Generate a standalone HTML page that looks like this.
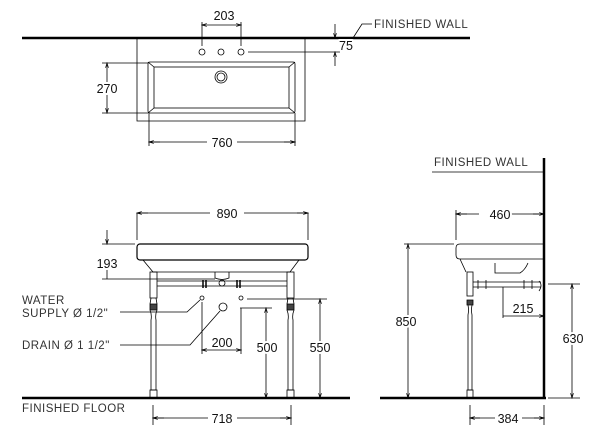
<!DOCTYPE html>
<html><head><style>body{margin:0;background:#fff}svg{display:block}text{font-family:"Liberation Sans",sans-serif;font-size:12.5px;fill:#111;paint-order:stroke;stroke:#fff;stroke-width:4px;stroke-linejoin:round}.l{font-size:11.5px;fill:#333;letter-spacing:0.5px}</style></head><body>
<svg width="600" height="443" viewBox="0 0 600 443" xmlns="http://www.w3.org/2000/svg">
<defs><marker id="a" viewBox="0 0 10 10" refX="10" refY="5" markerWidth="8" markerHeight="6" orient="auto-start-reverse"><path d="M0,2 L10,5 L0,8" fill="none" stroke="#000" stroke-width="1.5"/></marker></defs>
<g stroke="#000" fill="none" stroke-width="0.8">
<line x1="22" y1="38" x2="470" y2="38" stroke-width="2.5"/>
<path d="M137,38 V121 H305 V38"/>
<rect x="148" y="62" width="147" height="51" rx="2"/>
<rect x="154" y="67" width="135" height="41"/>
<path d="M148,62 L154,67 M295,62 L289,67 M148,113 L154,108 M295,113 L289,108"/>
<circle cx="202" cy="52" r="3"/><circle cx="221" cy="52" r="3"/><circle cx="241" cy="52" r="3"/>
<circle cx="221" cy="77" r="6"/><circle cx="221" cy="77" r="4"/>
<path d="M202,22 V46 M241,22 V46"/>
<line x1="202" y1="25" x2="241" y2="25" marker-start="url(#a)" marker-end="url(#a)"/>
<line x1="248" y1="52" x2="340" y2="52"/>
<line x1="335" y1="24" x2="335" y2="38" marker-end="url(#a)"/>
<line x1="335" y1="66" x2="335" y2="52" marker-end="url(#a)"/>
<path d="M353,38 L362,24 H372"/>
<path d="M102,63 H148 M102,113 H148"/>
<line x1="107" y1="63" x2="107" y2="113" marker-start="url(#a)" marker-end="url(#a)"/>
<path d="M149,113 V146 M295,113 V146"/>
<path d="M149,142 H207 M237,142 H295" />
<line x1="149" y1="142" x2="160" y2="142" marker-start="url(#a)"/>
<line x1="284" y1="142" x2="295" y2="142" marker-end="url(#a)"/>
<line x1="22" y1="398" x2="350" y2="398" stroke-width="2.5"/>
<path d="M137,213 V240 M308,213 V240"/>
<path d="M137,213 H210 M244,213 H308"/>
<line x1="137" y1="213" x2="148" y2="213" marker-start="url(#a)"/>
<line x1="297" y1="213" x2="308" y2="213" marker-end="url(#a)"/>
<rect x="137" y="244" width="171" height="16" rx="3" stroke-width="1.2"/>
<path d="M143,260 L153,272 H290 L299,260" />
<path d="M215,272 V278 Q222,281 229,278 V272"/>
<rect x="150" y="272" width="7" height="26"/><rect x="287" y="272" width="7" height="26"/>
<path d="M150,304 h7 v6 h-7z M287,304 h7 v6 h-7z" fill="#444"/>
<path d="M151,298 l-1,6 M156,298 l1,6 M288,298 l-1,6 M293,298 l1,6"/>
<path d="M150,310 q2,5 1,10 V390 h5 V320 q-1,-5 1,-10 M287,310 q2,5 1,10 V390 h5 V320 q-1,-5 1,-10"/>
<rect x="150" y="390" width="7" height="8"/><rect x="287" y="390" width="7" height="8"/>
<path d="M157,281 H287 M157,286 H287"/>
<path d="M203,280 v8 M206,280 v8 M237,280 v8 M240,280 v8" stroke-width="1.5"/>
<circle cx="222" cy="283" r="3"/>
<path d="M102,244 H135 M102,279 H215"/>
<line x1="107" y1="230" x2="107" y2="244" marker-end="url(#a)"/>
<line x1="107" y1="262" x2="107" y2="279"/>
<circle cx="202" cy="298" r="2"/><circle cx="241" cy="298" r="2"/><circle cx="223" cy="307" r="4"/>
<path d="M120,312 H187 L200,300"/>
<path d="M120,345 H190 L220,311"/>
<path d="M202,302 V354 M241,308 V354"/>
<line x1="202" y1="350" x2="241" y2="350" marker-start="url(#a)" marker-end="url(#a)"/>
<path d="M240,308 H272 M247,299 H327"/>
<line x1="266" y1="308" x2="266" y2="398" marker-start="url(#a)" marker-end="url(#a)"/>
<line x1="320" y1="299" x2="320" y2="398" marker-start="url(#a)" marker-end="url(#a)"/>
<path d="M153,405 V425 M291,405 V425 M153,418 H208 M237,418 H291"/>
<line x1="153" y1="418" x2="164" y2="418" marker-start="url(#a)"/>
<line x1="280" y1="418" x2="291" y2="418" marker-end="url(#a)"/>
<line x1="544" y1="158" x2="544" y2="399" stroke-width="2.5"/>
<line x1="380" y1="398" x2="546" y2="398" stroke-width="2.5"/>
<line x1="432" y1="172" x2="543" y2="172"/>
<path d="M456,210 V240 M456,214 H479 M508,214 H544"/>
<line x1="456" y1="214" x2="467" y2="214" marker-start="url(#a)"/>
<line x1="533" y1="214" x2="544" y2="214" marker-end="url(#a)"/>
<path d="M544,244 H460 q-4,0 -4,4 v7 q0,4 4,4 H544"/>
<path d="M460,259 L466,272 M495,263 v10 H520 q5,-3 8,-10"/>
<rect x="467" y="272" width="6" height="24"/>
<path d="M467,300 h6 v5 h-6z" fill="#444"/>
<path d="M468,305 q1,5 0,10 V390 h4 V315 q-1,-5 0,-10"/>
<rect x="467" y="390" width="6" height="8"/>
<path d="M473,282 H541 M473,287 H541 M478,280 v9 M486,280 v9 M524,280 v9 M532,280 v9"/>
<path d="M539,281 q4,4 0,10"/>
<path d="M404,244 H454"/>
<line x1="408" y1="244" x2="408" y2="398" marker-start="url(#a)" marker-end="url(#a)"/>
<path d="M548,284 H580 M548,398 H580"/>
<line x1="572" y1="284" x2="572" y2="398" marker-start="url(#a)" marker-end="url(#a)"/>
<path d="M503,287 V318"/>
<line x1="503" y1="316" x2="544" y2="316" marker-end="url(#a)"/>
<path d="M470,405 V425 M544,405 V425 M470,418 H495 M522,418 H544"/>
<line x1="470" y1="418" x2="480" y2="418" marker-start="url(#a)"/>
<line x1="534" y1="418" x2="544" y2="418" marker-end="url(#a)"/>
</g>
<text x="224" y="20" text-anchor="middle">203</text>
<text x="339" y="50">75</text>
<text x="374" y="28" class="l">FINISHED WALL</text>
<text x="107" y="93" text-anchor="middle">270</text>
<text x="222" y="147" text-anchor="middle">760</text>
<text x="227" y="218" text-anchor="middle">890</text>
<text x="107" y="268" text-anchor="middle">193</text>
<text x="22" y="304" class="l">WATER</text>
<text x="22" y="317" class="l">SUPPLY Ø 1/2"</text>
<text x="22" y="349" class="l">DRAIN Ø 1 1/2"</text>
<text x="222" y="347" text-anchor="middle">200</text>
<text x="267" y="352" text-anchor="middle">500</text>
<text x="320" y="352" text-anchor="middle">550</text>
<text x="22" y="412" class="l">FINISHED FLOOR</text>
<text x="222" y="423" text-anchor="middle">718</text>
<text x="434" y="166" class="l">FINISHED WALL</text>
<text x="500" y="219" text-anchor="middle">460</text>
<text x="406" y="326" text-anchor="middle">850</text>
<text x="523" y="313" text-anchor="middle">215</text>
<text x="573" y="343" text-anchor="middle">630</text>
<text x="508" y="423" text-anchor="middle">384</text>
</svg>
</body></html>
